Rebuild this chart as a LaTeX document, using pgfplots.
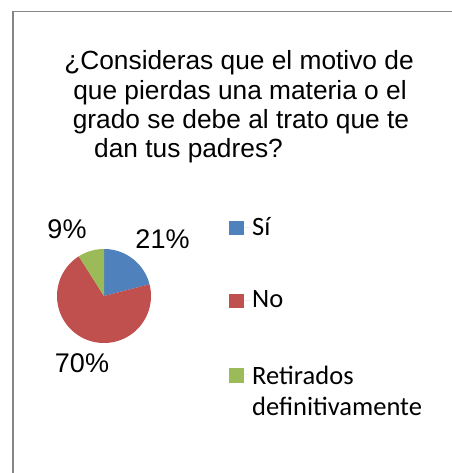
\documentclass[border=0pt]{standalone}
\usepackage{pgfplots}
\pgfplotsset{compat=1.18}
\usepackage{fontspec}
\setmainfont{Liberation Sans}
\newfontfamily\calibri{Carlito}
\definecolor{frameGray}{HTML}{868686}
\definecolor{sliceBlue}{HTML}{4F81BD}
\definecolor{sliceRed}{HTML}{C0504D}
\definecolor{sliceGreen}{HTML}{9BBB59}

% shares in percent
\def\pSi{21}
\def\pNo{70}
\def\pRet{9}
\pgfmathsetmacro\aA{90}
\pgfmathsetmacro\aB{90-3.6*\pSi}
\pgfmathsetmacro\aC{\aB-3.6*\pNo}
\pgfmathsetmacro\aD{\aC-3.6*\pRet}

\begin{document}
\begin{tikzpicture}
\useasboundingbox (0,0) rectangle (451pt,-473pt);
\draw[frameGray, line width=1.4pt] (13pt,-480pt) -- (13pt,-11.5pt) -- (460pt,-11.5pt);

% title
\begin{scope}[every node/.style={inner sep=0pt, font=\fontsize{26.3}{29}\selectfont}]
\node[anchor=base] at (239pt,-70pt) {¿Consideras que el motivo de};
\node[anchor=base] at (240pt,-99.5pt) {que pierdas una materia o el};
\node[anchor=base] at (241pt,-128.5pt) {grado se debe al trato que te};
\node[anchor=base west] at (94pt,-157.5pt) {dan tus padres?};
\end{scope}

\begin{axis}[
    at={(104pt,-296pt)}, anchor=center,
    scale only axis, width=94pt, height=94pt,
    xmin=-1, xmax=1, ymin=-1, ymax=1,
    hide axis, clip=false,
    legend style={
        at={(1.83,1.36)}, anchor=north west,
        draw=none, fill=none,
        font=\calibri\fontsize{26.5}{30.7}\selectfont,
        row sep=50pt,
        inner sep=0pt,
    },
    legend cell align=left,
    legend image code/.code={
        \fill[#1] (0pt,-8pt) rectangle (14.5pt,6.5pt);
        \path (0pt,0pt) -- (21pt,0pt);},
]
\addplot[fill=sliceBlue, draw=none, domain=\aB:\aA, samples=40]
    ({cos(x)},{sin(x)}) -- (axis cs:0,0) -- cycle;
\addlegendentry{Sí}
\addplot[fill=sliceRed, draw=none, domain=\aC:\aB, samples=120]
    ({cos(x)},{sin(x)}) -- (axis cs:0,0) -- cycle;
\addlegendentry{No}
\addplot[fill=sliceGreen, draw=none, domain=\aD:\aC, samples=20]
    ({cos(x)},{sin(x)}) -- (axis cs:0,0) -- cycle;
\addlegendentry{\begin{tabular}[t]{@{}l@{}}Retirados\\definitivamente\end{tabular}}

\begin{scope}[every node/.style={inner sep=0pt, anchor=base, font=\fontsize{27}{32}\selectfont}]
\node at (axis cs:1.245,1.021) {21\%};
\node at (axis cs:-0.787,1.234) {9\%};
\node at (axis cs:-0.468,-1.632) {70\%};
\end{scope}
\end{axis}
\end{tikzpicture}
\end{document}
